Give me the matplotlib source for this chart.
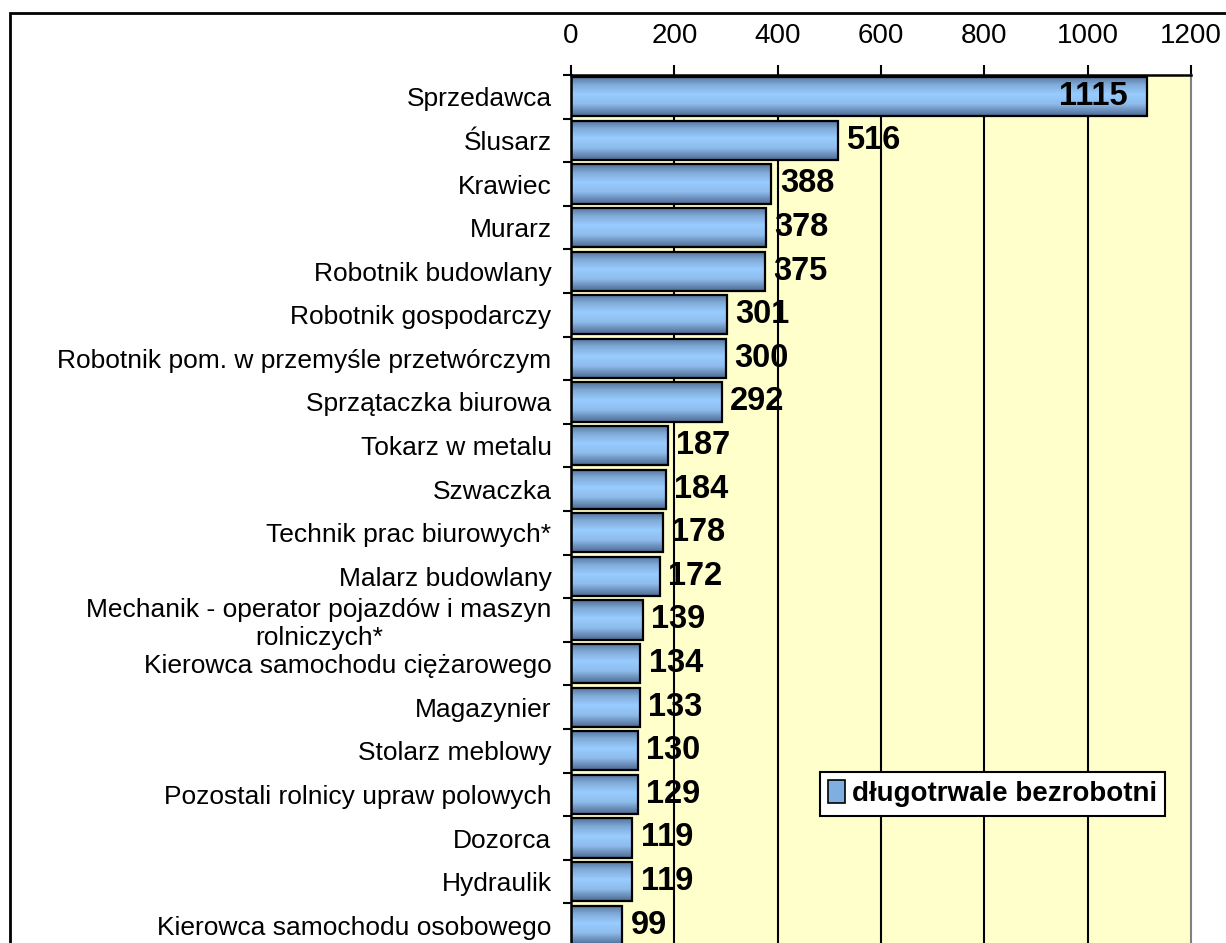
import numpy as np
import matplotlib
matplotlib.use("Agg")
from matplotlib import pyplot as plt
from matplotlib.colors import LinearSegmentedColormap
from matplotlib.patches import Patch, Rectangle

plt.rcParams['font.family'] = ['Liberation Sans', 'DejaVu Sans']

# zawody - dlugotrwale bezrobotni
zawody = [
    "Sprzedawca",
    "Ślusarz",
    "Krawiec",
    "Murarz",
    "Robotnik budowlany",
    "Robotnik gospodarczy",
    "Robotnik pom. w przemyśle przetwórczym",
    "Sprzątaczka biurowa",
    "Tokarz w metalu",
    "Szwaczka",
    "Technik prac biurowych*",
    "Malarz budowlany",
    "Mechanik - operator pojazdów i maszyn\nrolniczych*",
    "Kierowca samochodu ciężarowego",
    "Magazynier",
    "Stolarz meblowy",
    "Pozostali rolnicy upraw polowych",
    "Dozorca",
    "Hydraulik",
    "Kierowca samochodu osobowego",
]
liczba = [1115, 516, 388, 378, 375, 301, 300, 292, 187, 184,
          178, 172, 139, 134, 133, 130, 129, 119, 119, 99]
x_ticks = [0, 200, 400, 600, 800, 1000, 1200]
seria = "długotrwale bezrobotni"

W, H = 1226, 943
fig = plt.figure(figsize=(W/100, H/100), dpi=100)

# outer chart frame (cut off at right and bottom like the original)
fig.add_artist(Rectangle((10/W, -0.1), 1.2, (H-13)/H + 0.1, transform=fig.transFigure,
                         fill=False, edgecolor='black', lw=2.0))

ax = fig.add_axes([571/W, -4/H, 620/W, 872/H])
ax.set_facecolor('#FFFFCC')

grad = LinearSegmentedColormap.from_list('bar', [
    (0.0, '#52729A'), (0.2, '#7FA9D6'), (0.45, '#99CCFF'),
    (0.7, '#8EBCEC'), (0.9, '#6486B0'), (1.0, '#4A6A90')])
g = np.linspace(0, 1, 64).reshape(-1, 1)

h = 0.9
y = np.arange(len(zawody))
bars = ax.barh(y, liczba, height=h, facecolor='none', edgecolor='black', lw=1.6, zorder=3)
for i, (b, v) in enumerate(zip(bars, liczba)):
    im = ax.imshow(g, cmap=grad, aspect='auto', origin='upper',
                   extent=(0, v, i + h/2, i - h/2), zorder=2)
    im.set_clip_path(b)
    if v > 1000:
        ax.annotate(str(v), (v, i), xytext=(-14, 0), textcoords='offset points',
                    ha='right', va='center', fontsize=23.5, fontweight='bold', zorder=4)
    else:
        ax.annotate(str(v), (v, i), xytext=(6, 0), textcoords='offset points',
                    ha='left', va='center', fontsize=23.5, fontweight='bold', zorder=4)

ax.set_xlim(0, 1200)
ax.set_ylim(len(zawody) - 0.5, -0.5)
ax.set_xticks(x_ticks)
ax.xaxis.tick_top()
ax.tick_params(axis='x', direction='out', length=7, width=1.5, pad=12, labelsize=20)
for xv in x_ticks[1:-1]:
    ax.axvline(xv, color='black', lw=1.5, zorder=1)

ax.set_yticks(y)
ax.set_yticklabels(zawody, fontsize=19, multialignment='center')
ax.set_yticks(np.arange(len(zawody) + 1) - 0.5, minor=True)
ax.tick_params(axis='y', which='major', length=0, pad=14)
ax.tick_params(axis='y', which='minor', direction='out', length=6, width=1.5)

ax.spines['left'].set_linewidth(1.8)
ax.spines['top'].set_linewidth(1.8)
ax.spines['right'].set_color('#808080')
ax.spines['right'].set_linewidth(1.5)
ax.spines['bottom'].set_visible(False)

leg = ax.legend(handles=[Patch(facecolor='#7FAEE0', edgecolor='black', lw=1.2, label=seria)],
                loc='upper left', bbox_to_anchor=(0.4016, 0.2007), borderaxespad=0,
                fancybox=False, shadow=False, framealpha=1, edgecolor='black',
                prop={'size': 20, 'weight': 'bold'}, handlelength=0.6, handleheight=0.9,
                handletextpad=0.25, borderpad=0.3)
leg.get_frame().set_linewidth(1.5)
leg.set_zorder(5)

fig.savefig("out.png", dpi=100)
